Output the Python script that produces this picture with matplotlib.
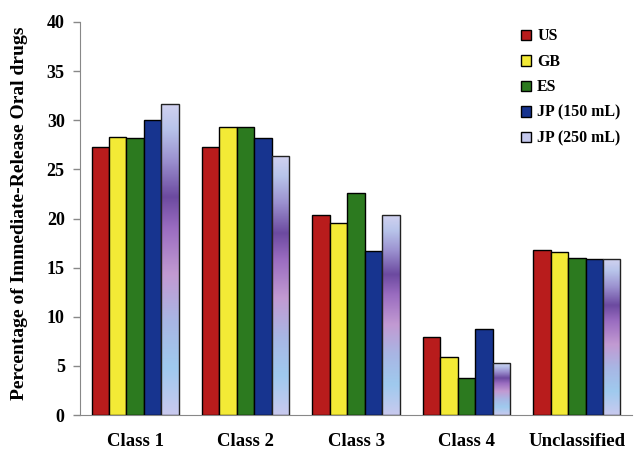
import numpy as np
import matplotlib
matplotlib.use("Agg")
import matplotlib.pyplot as plt
from matplotlib.colors import LinearSegmentedColormap
from matplotlib.patches import Patch

categories = ["Class 1", "Class 2", "Class 3", "Class 4", "Unclassified"]
series = ["US", "GB", "ES", "JP (150 mL)", "JP (250 mL)"]
us = [27.3, 27.3, 20.4, 7.9, 16.8]
gb = [28.3, 29.3, 19.5, 5.9, 16.6]
es = [28.2, 29.3, 22.6, 3.8, 16.0]
jp150 = [30.0, 28.2, 16.7, 8.8, 15.9]
jp250 = [31.7, 26.4, 20.4, 5.3, 15.9]
values = [us, gb, es, jp150, jp250]
colors = ["#b81c1c", "#f3ea36", "#2c7a1f", "#17348f", None]

grad = LinearSegmentedColormap.from_list("jp", [
    (0.0, "#c9c9ee"), (0.15, "#9fcaee"), (0.3, "#a8b6e4"), (0.45, "#c29ad2"),
    (0.6, "#9a6cc0"), (0.7, "#6c4aa0"), (0.82, "#9c92d0"), (0.92, "#b8c4ea"), (1.0, "#d2d2f0")])

plt.rcParams["font.family"] = ["Liberation Serif", "DejaVu Serif"]
plt.rcParams["font.weight"] = "bold"

fig = plt.figure(figsize=(6.4, 4.66), dpi=100)
ax = fig.add_axes([0.125, 0.1094, 0.8625, 0.8434])

x = np.arange(len(categories))
w = 0.158
for i, (vals, c) in enumerate(zip(values, colors)):
    pos = x + (i - 2) * w
    if c is not None:
        ax.bar(pos, vals, w, color=c, edgecolor="black", linewidth=1.0, zorder=3)
    else:
        bars = ax.bar(pos, vals, w, facecolor="none", edgecolor="#222222", linewidth=1.0, zorder=4)
        for b, v in zip(bars, vals):
            g = np.linspace(0, 1, 256).reshape(-1, 1)
            im = ax.imshow(g, cmap=grad, origin="lower", aspect="auto",
                           extent=[b.get_x(), b.get_x() + b.get_width(), 0, v], zorder=3)
            im.set_clip_path(b)

ax.set_xlim(-0.5, 4.5)
ax.set_ylim(0, 40)
ax.set_yticks(range(0, 41, 5))
ax.set_xticks(x)
ax.set_xticklabels(categories, fontsize=13.5, fontweight="bold")
ax.tick_params(axis="x", length=0, pad=13)
ax.tick_params(axis="y", labelsize=13, colors="#888888", labelcolor="black", length=5, width=1, pad=6)
for lab in ax.get_yticklabels():
    lab.set_fontweight("bold")
for s in ["top", "right"]:
    ax.spines[s].set_visible(False)
for s in ["left", "bottom"]:
    ax.spines[s].set_color("#888888")
ax.set_ylabel("Percentage of Immediate-Release Oral drugs", fontsize=14, fontweight="bold", labelpad=10)
ax.yaxis.set_label_coords(-0.094, 0.513)

handles = [Patch(facecolor=c if c else "#c4c8ec", edgecolor="black", linewidth=1.0) for c in colors]
ax.legend(handles, series, loc="upper right", bbox_to_anchor=(1.005, 1.02), frameon=False,
          prop={"family": "Liberation Serif", "weight": "bold", "size": 11.4},
          handlelength=0.65, handleheight=0.65, handletextpad=0.4, labelspacing=0.6)

fig.savefig("out.png", dpi=100)
